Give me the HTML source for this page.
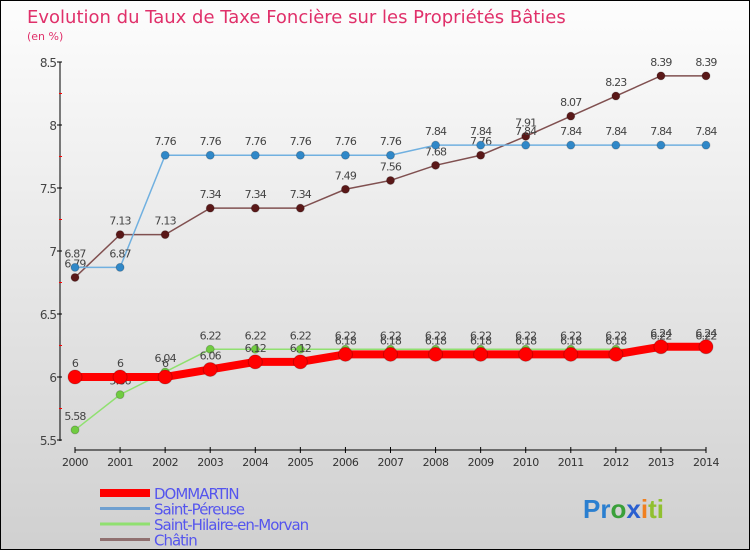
<!DOCTYPE html>
<html><head><meta charset="utf-8"><style>
body{margin:0}
#c{width:750px;height:550px;position:relative;box-sizing:border-box;border:1px solid #000;background:linear-gradient(#fdfdfd,#d0d0d0);font-family:"DejaVu Sans","Liberation Sans",sans-serif;overflow:hidden}
</style></head><body>
<div id="c">
<svg id="s" width="750" height="550" style="position:absolute;left:-1px;top:-1px">
<text x="27" y="23" font-size="18" fill="#e0306a">Evolution du Taux de Taxe Foncière sur les Propriétés Bâties</text>
<text x="27" y="40" font-size="11" fill="#e0306a">(en %)</text>
<text x="583" y="518" font-size="26" font-family="Liberation Sans,sans-serif" font-weight="bold"><tspan fill="#2a7fd0">Pr</tspan><tspan fill="#3aa03a">o</tspan><tspan fill="#2a5fd0">x</tspan><tspan fill="#f08020">i</tspan><tspan fill="#90c030">ti</tspan></text>
</svg>
</div>
<script>
const years=[2000,2001,2002,2003,2004,2005,2006,2007,2008,2009,2010,2011,2012,2013,2014];
const yTicks=[5.5,6,6.5,7,7.5,8,8.5];
const dommartin=[6,6,6,6.06,6.12,6.12,6.18,6.18,6.18,6.18,6.18,6.18,6.18,6.24,6.24];
const saintPereuse=[6.87,6.87,7.76,7.76,7.76,7.76,7.76,7.76,7.84,7.84,7.84,7.84,7.84,7.84,7.84];
const saintHilaire=[5.58,5.86,6.04,6.22,6.22,6.22,6.22,6.22,6.22,6.22,6.22,6.22,6.22,6.22,6.22];
const chatin=[6.79,7.13,7.13,7.34,7.34,7.34,7.49,7.56,7.68,7.76,7.91,8.07,8.23,8.39,8.39];
const seriesNames=["DOMMARTIN","Saint-Péreuse","Saint-Hilaire-en-Morvan","Châtin"];
const NS="http://www.w3.org/2000/svg",s=document.getElementById('s');
const X=i=>75+i*(706-75)/(years.length-1);
const Y=v=>440-(v-5.5)*126;
function el(t,a,p){const e=document.createElementNS(NS,t);for(const k in a)e.setAttribute(k,a[k]);(p||s).appendChild(e);return e;}
let ax=el('line',{x1:60,y1:62,x2:60,y2:441,stroke:'#000'});


let xa=el('line',{x1:75,y1:450,x2:706,y2:450,stroke:'#000'});


yTicks.forEach(v=>{el('line',{x1:57,x2:62,y1:Y(v),y2:Y(v),stroke:'#000'});
 if(v<8.5)el('line',{x1:59,x2:62,y1:Y(v+0.25),y2:Y(v+0.25),stroke:'#f00'});
 const t=el('text',{x:56,y:Y(v)+5,'text-anchor':'end','font-size':12,fill:'#444','letter-spacing':'-1'});t.textContent=String(v);
 
 });
years.forEach((y,i)=>{el('line',{x1:X(i),x2:X(i),y1:447,y2:453,stroke:'#000'});
 const t=el('text',{x:X(i),y:466,'text-anchor':'middle','font-size':11,fill:'#333','letter-spacing':'-0.5'});t.textContent=y;
 
 });
function series(vals,color,dot,w,r,name){
 const g=el('g',{});
 
 
 el('polyline',{points:vals.map((v,i)=>X(i)+','+Y(v)).join(' '),fill:'none',stroke:color,'stroke-width':w},g);
 vals.forEach((v,i)=>{const c=el('circle',{cx:X(i),cy:Y(v),r:r,fill:dot,stroke:'#0003'},g);
  
  
  const t=el('text',{x:X(i),y:Y(v)-10,'text-anchor':'middle','font-size':11,fill:'#444','letter-spacing':'-0.8'},g);t.textContent=String(v);
  
  });
}
series(saintHilaire,'#90e070','#70cc40',1.5,4,'saint-hilaire');
series(chatin,'#805050','#5a1818',1.5,4,'chatin');
series(saintPereuse,'#70b0e0','#3088c8',1.5,4,'saint-pereuse');
series(dommartin,'#f00','#f00',8,7,'dommartin');
const lc=['#f00','#70a0d0','#90e070','#907070'],lw=[8,3,3,3];
seriesNames.forEach((n,i)=>{const y=493+i*15.5;
 const g=el('g',{});
 
 
 el('line',{x1:100,x2:150,y1:y,y2:y,stroke:lc[i],'stroke-width':lw[i]},g);
 const t=el('text',{x:154,y:y+6,'font-size':15,fill:'#5555ee','letter-spacing':'-1'},g);t.textContent=n;});
</script>
</body></html>
